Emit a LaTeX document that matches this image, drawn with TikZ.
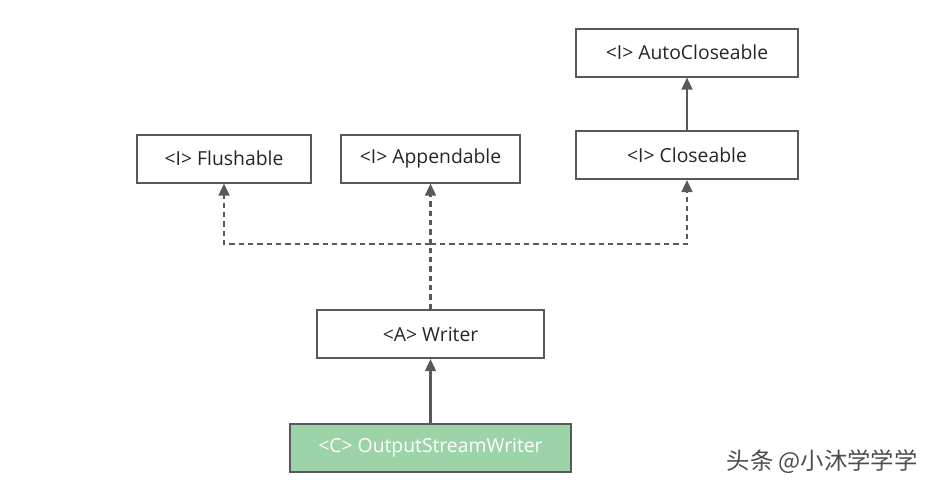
\documentclass[tikz,border=0pt]{standalone}
\usepackage{fontspec}
\setmainfont{Open Sans}
\newfontfamily\cjk{Noto Sans CJK SC}
\usetikzlibrary{arrows.meta}
\definecolor{ln}{HTML}{595959}
\definecolor{gr}{HTML}{9DD3A8}
\begin{document}
\begin{tikzpicture}[x=0.75pt,y=-0.75pt,
  box/.style={draw=ln,line width=1.5pt,fill=white,minimum height=36pt,inner sep=0pt,font=\fontsize{14.5}{17}\selectfont,text=black!85},
  arr/.style={draw=ln,line width=1.8pt,-{Triangle[length=9pt,width=8pt]}},
  dsh/.style={arr,dash pattern=on 4pt off 3pt}]
\useasboundingbox (0,0) rectangle (934,489);
\node[box,minimum width=166.5pt] (ac) at (687,52.5) {<I> AutoCloseable};
\node[box,minimum width=166.5pt] (cl) at (687,155) {<I> Closeable};
\node[box,minimum width=130.5pt] (fl) at (224,158.5) {<I> Flushable};
\node[box,minimum width=134pt] (ap) at (430.5,158.5) {<I> Appendable};
\node[box,minimum width=170pt] (wr) at (430.5,334) {<A> Writer};
\node[box,minimum width=210.5pt,fill=gr,text=white] (os) at (430.5,448) {<C> OutputStreamWriter};
\coordinate (j) at (430.5,244);
\draw[arr] (cl) -- (ac);
\draw[arr] (os) -- (wr);
\draw[dsh,-] (wr.north) -- (j);
\draw[dsh] (j) -| (fl.south);
\draw[dsh] (j) -- (ap.south);
\draw[dsh] (j) -| (cl.south);
\node[font=\cjk\fontsize{17.5}{20}\selectfont,text=black!70,anchor=west] (wm) at (722,462) {头条 @小沐学学学};
\end{tikzpicture}
\end{document}
